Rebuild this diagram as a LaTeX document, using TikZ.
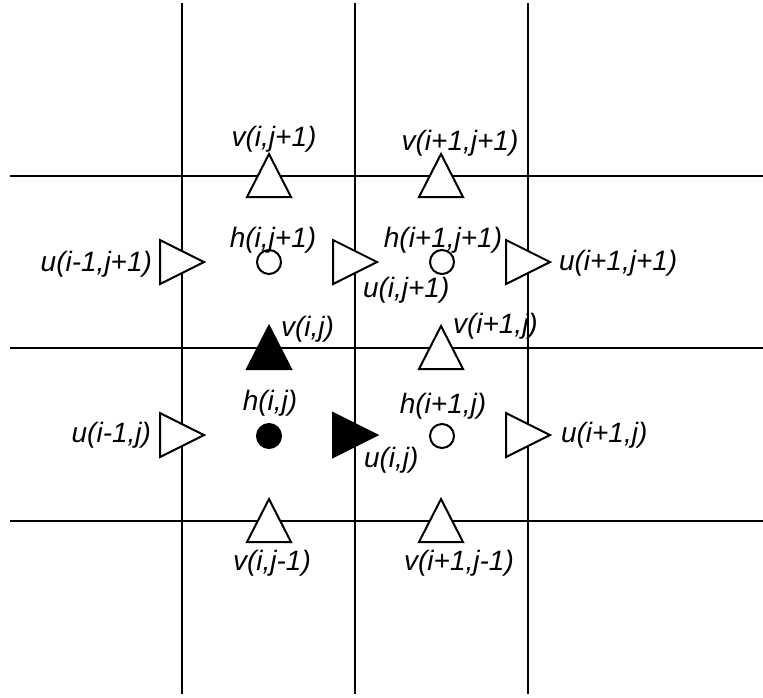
\documentclass[tikz,border=0pt]{standalone}
\usepackage{fontspec}
\setmainfont{Liberation Sans}
\newcommand\vtri[3]{\draw[#3] (#1-22,#2+21) -- (#1,#2-22) -- (#1+22,#2+21) -- cycle;}
\newcommand\utri[3]{\draw[#3] (#1-22,#2-22) -- (#1+22,#2) -- (#1-22,#2+22) -- cycle;}
\begin{document}
\begin{tikzpicture}[x=0.5pt,y=-0.5pt,line width=1pt,
  lbl/.style={inner sep=0pt,font=\fontsize{14}{17}\selectfont\itshape},
  open/.style={draw=black,fill=white,line join=miter},
  full/.style={draw=black,fill=black,line join=miter},
  gridline/.style={draw=black,line width=1pt}]
\useasboundingbox (0,0) rectangle (763,697);
% grid
\foreach \x in {182,355,528} \draw[gridline] (\x,3) -- (\x,694);
\foreach \y in {176,348,521} \draw[gridline] (10,\y) -- (763,\y);
% v points
\vtri{269}{176}{open}
\vtri{441}{176}{open}
\vtri{269}{348}{full}
\vtri{441}{348}{open}
\vtri{269}{521}{open}
\vtri{441}{521}{open}
% u points
\utri{182}{262}{open}
\utri{355}{262}{open}
\utri{528}{262}{open}
\utri{182}{435}{open}
\utri{355}{435}{full}
\utri{528}{435}{open}
% h points
\node[circle,draw,fill=white,minimum size=12pt,inner sep=0pt] (hij1) at (269,262) {};
\node[circle,draw,fill=white,minimum size=12pt,inner sep=0pt] (hi1j1) at (442,262) {};
\node[circle,draw,fill=black,minimum size=12pt,inner sep=0pt] (hij) at (269,436) {};
\node[circle,draw,fill=white,minimum size=12pt,inner sep=0pt] (hi1j) at (442,436) {};
% labels
\node[lbl,anchor=base] (Lvij1) at (274,146) {v(i,j+1)};
\node[lbl,anchor=base] (Lvi1j1) at (460,150) {v(i+1,j+1)};
\node[lbl,anchor=base] (Lhij1) at (273,247) {h(i,j+1)};
\node[lbl,anchor=base] (Lhi1j1) at (443,247) {h(i+1,j+1)};
\node[lbl,anchor=base east] (Lum1j1) at (153,271) {u(i-1,j+1)};
\node[lbl,anchor=base west] (Luij1) at (362,297) {u(i,j+1)};
\node[lbl,anchor=base west] (Lui1j1) at (558,270) {u(i+1,j+1)};
\node[lbl,anchor=base west] (Lvij) at (280,336) {v(i,j)};
\node[lbl,anchor=base west] (Lvi1j) at (452,333) {v(i+1,j)};
\node[lbl,anchor=base] (Lhij) at (270,410) {h(i,j)};
\node[lbl,anchor=base] (Lhi1j) at (443,413) {h(i+1,j)};
\node[lbl,anchor=base east] (Lum1j) at (152,442) {u(i-1,j)};
\node[lbl,anchor=base west] (Luij) at (363,467) {u(i,j)};
\node[lbl,anchor=base west] (Lui1j) at (560,442) {u(i+1,j)};
\node[lbl,anchor=base] (Lvijm1) at (272,570) {v(i,j-1)};
\node[lbl,anchor=base] (Lvi1jm1) at (459,570) {v(i+1,j-1)};
\end{tikzpicture}
\end{document}
